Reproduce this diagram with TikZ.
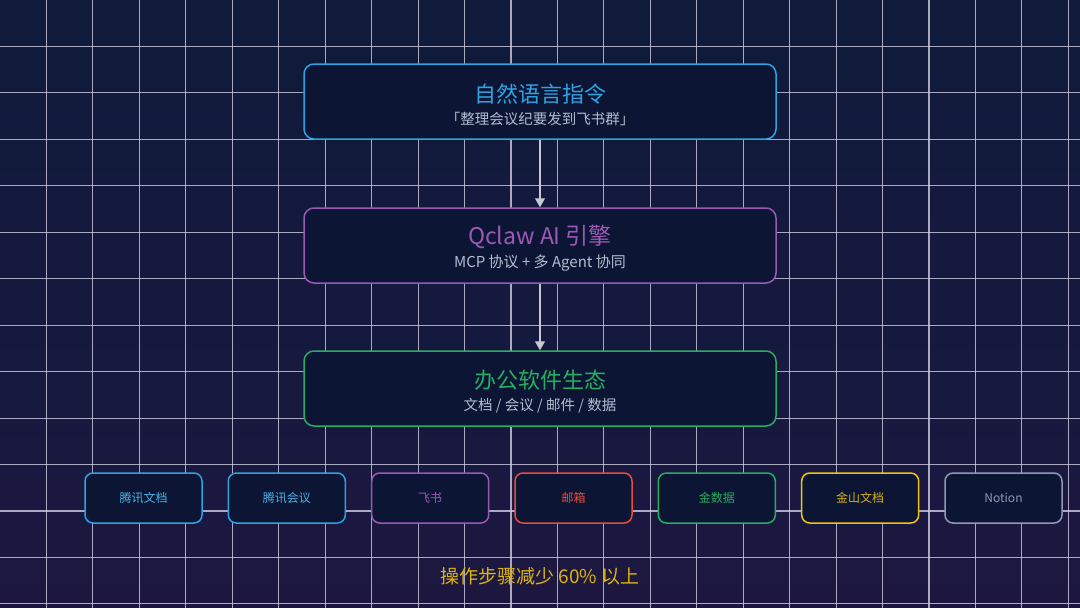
\documentclass[tikz,border=0pt]{standalone}
\usepackage{fontspec}
\setmainfont{Noto Sans CJK SC}
\usetikzlibrary{arrows.meta}
\definecolor{bgtop}{HTML}{101A3B}
\definecolor{bgmid}{HTML}{1B1840}
\definecolor{bgbot}{HTML}{2A1340}
\definecolor{boxfill}{HTML}{0C1634}
\definecolor{cblue}{HTML}{2EA2E2}
\definecolor{cpurple}{HTML}{9B59B6}
\definecolor{cgreen}{HTML}{2ECC71}
\definecolor{cred}{HTML}{E74C3C}
\definecolor{cyellow}{HTML}{F1C40F}
\definecolor{cgray}{HTML}{8E9AB2}
\definecolor{subtext}{HTML}{B4BCCE}
\definecolor{arrowc}{HTML}{C8C8D2}
\definecolor{gridc}{HTML}{D0CCE6}
\pgfdeclareverticalshading{bgshade}{100bp}{color(0bp)=(bgbot); color(30bp)=(bgmid); color(70bp)=(bgtop); color(100bp)=(bgtop)}
\tikzset{
  mainbox/.style={draw=#1, line width=1.5pt, fill=boxfill, rounded corners=10pt, minimum width=472pt, minimum height=75pt, inner sep=0pt},
  smallbox/.style={draw=#1, line width=1.5pt, fill=boxfill, rounded corners=8pt, minimum width=117pt, minimum height=50pt, inner sep=0pt},
  titletext/.style={text=#1, font=\fontsize{22}{24}\selectfont, inner sep=0pt, anchor=center},
  subtitletext/.style={text=subtext, font=\fontsize{14.5}{16}\selectfont, inner sep=0pt, anchor=center},
  smalltext/.style={text=#1, font=\fontsize{12}{13}\selectfont, inner sep=0pt},
  arr/.style={draw=arrowc, line width=1.2pt, -{Triangle[width=10pt,length=9pt]}},
  gridline/.style={draw=gridc, line width=1.1pt, opacity=0.8}
}
\begin{document}
\begin{tikzpicture}[x=1pt,y=-1pt]
\useasboundingbox (0,0) rectangle (1080,608);
\shade[shading=bgshade] (0,0) rectangle (1080,608);
\foreach \k in {1,...,23} {
  \draw[gridline] ({\k*46.45},0) -- ({\k*46.45},608);
}
\foreach \k in {1,...,13} {
  \draw[gridline] (0,{\k*46.45}) -- (1080,{\k*46.45});
}
% main boxes
\node[mainbox=cblue] (n1) at (540,101.5) {};
\node[titletext=cblue] (t1) at (540,94) {自然语言指令};
\node[subtitletext] (s1) at (540,119) {「整理会议纪要发到飞书群」};
\node[mainbox=cpurple] (n2) at (540,245.5) {};
\node[titletext=cpurple, font=\fontsize{23}{25}\selectfont] (t2) at (540,237) {Qclaw AI 引擎};
\node[subtitletext, font=\fontsize{15}{17}\selectfont] (s2) at (540,263) {MCP 协议 + 多 Agent 协同};
\node[mainbox=cgreen!85!black] (n3) at (540,388.5) {};
\node[titletext=cgreen!85!black] (t3) at (540,380) {办公软件生态};
\node[subtitletext] (s3) at (540,406) {文档 / 会议 / 邮件 / 数据};
\draw[arr] (n1.south) -- (n2.north);
\draw[arr] (n2.south) -- (n3.north);
% small boxes
\node[smallbox=cblue] (b1) at (143.5,498) {};
\node[smalltext=cblue!85!white] at (b1) {腾讯文档};
\node[smallbox=cblue] (b2) at (286.8,498) {};
\node[smalltext=cblue!85!white] at (b2) {腾讯会议};
\node[smallbox=cpurple] (b3) at (430.2,498) {};
\node[smalltext=cpurple] at (b3) {飞书};
\node[smallbox=cred] (b4) at (573.5,498) {};
\node[smalltext=cred] at (b4) {邮箱};
\node[smallbox=cgreen!85!black] (b5) at (716.8,498) {};
\node[smalltext=cgreen!85!black] at (b5) {金数据};
\node[smallbox=cyellow] (b6) at (860.2,498) {};
\node[smalltext=cyellow!90!black] at (b6) {金山文档};
\node[smallbox=cgray] (b7) at (1003.5,498) {};
\node[smalltext=cgray] at (b7) {Notion};
% footer
\node[text=cyellow!92!black, font=\fontsize{19}{21}\selectfont, inner sep=0pt] (foot) at (540,576) {操作步骤减少 60\% 以上};
\end{tikzpicture}
\end{document}
